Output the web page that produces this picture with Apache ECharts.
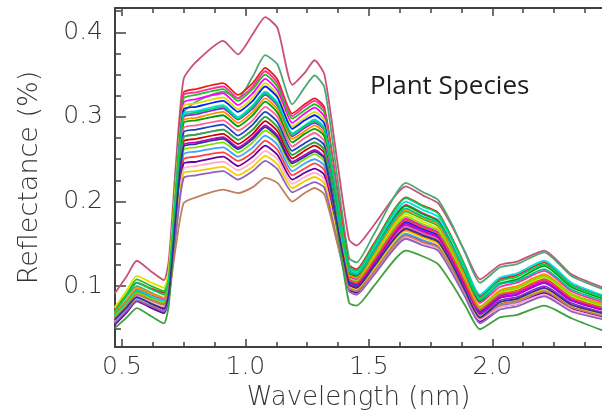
<!DOCTYPE html>
<html>
<head>
<meta charset="UTF-8">
<title>Plant Species</title>
<style type="text/css">
	html, body { margin: 0; padding: 0; background: #fff; }
	#container { width: 602px; height: 416px; }
</style>
</head>
<body>
<div id="container"></div>
<script src="https://cdn.jsdelivr.net/npm/echarts/dist/echarts.min.js"></script>
<script>
// wavelength (um) sampled along every curve
var wavelength = [0.47, 0.52, 0.56, 0.62, 0.67, 0.69, 0.72, 0.75, 0.80, 0.91, 0.97, 1.03, 1.08, 1.13, 1.19, 1.24, 1.28, 1.32, 1.37, 1.42, 1.45, 1.52, 1.65, 1.72, 1.78, 1.84, 1.89, 1.95, 2.03, 2.10, 2.21, 2.32, 2.46];

// reflectance, one row per species
var spectra = [
	[0.091,0.112,0.130,0.117,0.107, 0.131,0.250, 0.345,0.365,0.390,0.374,0.398,0.418,0.405,0.338,0.352,0.367,0.350, 0.252,0.155,0.148, 0.172,0.218,0.207,0.198,0.169,0.140,0.108, 0.125,0.129,0.142,0.114,0.097],
	[0.076,0.089,0.100,0.092,0.086, 0.112,0.240, 0.305,0.318,0.330,0.322,0.348,0.373,0.362,0.315,0.335,0.349,0.335, 0.234,0.133,0.128, 0.161,0.222,0.211,0.202,0.171,0.139,0.104, 0.122,0.126,0.140,0.112,0.095],
	[0.072,0.090,0.104,0.097,0.092, 0.116,0.234, 0.329,0.333,0.340,0.326,0.340,0.358,0.344,0.304,0.315,0.322,0.311, 0.218,0.125,0.120, 0.150,0.205,0.195,0.187,0.155,0.124,0.088, 0.108,0.113,0.128,0.102,0.087],
	[0.068,0.083,0.096,0.089,0.084, 0.108,0.229, 0.326,0.329,0.336,0.322,0.336,0.354,0.340,0.301,0.312,0.319,0.308, 0.214,0.119,0.114, 0.143,0.196,0.186,0.178,0.147,0.115,0.080, 0.099,0.104,0.118,0.094,0.080],
	[0.070,0.091,0.108,0.100,0.094, 0.117,0.231, 0.322,0.326,0.333,0.319,0.333,0.350,0.336,0.298,0.308,0.315,0.305, 0.210,0.114,0.110, 0.137,0.188,0.179,0.171,0.140,0.109,0.074, 0.093,0.098,0.112,0.090,0.076],
	[0.064,0.080,0.094,0.086,0.080, 0.104,0.222, 0.317,0.321,0.328,0.314,0.328,0.345,0.331,0.293,0.304,0.311,0.300, 0.206,0.112,0.108, 0.133,0.180,0.171,0.164,0.134,0.104,0.070, 0.088,0.092,0.106,0.085,0.072],
	[0.074,0.095,0.112,0.104,0.098, 0.120,0.227, 0.313,0.316,0.323,0.309,0.323,0.340,0.326,0.289,0.299,0.306,0.296, 0.203,0.110,0.106, 0.134,0.185,0.176,0.168,0.137,0.107,0.072, 0.091,0.096,0.110,0.088,0.075],
	[0.062,0.077,0.090,0.082,0.076, 0.099,0.216, 0.309,0.312,0.319,0.306,0.319,0.336,0.323,0.286,0.296,0.302,0.292, 0.200,0.108,0.104, 0.129,0.176,0.167,0.160,0.131,0.101,0.068, 0.086,0.090,0.104,0.083,0.071],
	[0.066,0.082,0.095,0.088,0.082, 0.104,0.215, 0.304,0.307,0.314,0.300,0.314,0.330,0.317,0.281,0.290,0.297,0.287, 0.204,0.121,0.116, 0.145,0.200,0.190,0.182,0.153,0.123,0.090, 0.110,0.115,0.130,0.104,0.088],
	[0.060,0.075,0.088,0.080,0.074, 0.097,0.210, 0.300,0.303,0.310,0.297,0.310,0.326,0.313,0.277,0.287,0.293,0.284, 0.194,0.104,0.100, 0.125,0.172,0.163,0.157,0.128,0.099,0.066, 0.083,0.087,0.100,0.080,0.068],
	[0.068,0.084,0.098,0.091,0.086, 0.107,0.212, 0.296,0.299,0.306,0.293,0.306,0.322,0.309,0.274,0.283,0.290,0.280, 0.197,0.114,0.110, 0.138,0.190,0.181,0.173,0.142,0.111,0.076, 0.095,0.100,0.114,0.091,0.078],
	[0.064,0.079,0.092,0.084,0.078, 0.100,0.207, 0.293,0.296,0.302,0.289,0.302,0.318,0.305,0.270,0.280,0.286,0.277, 0.197,0.116,0.112, 0.141,0.195,0.185,0.177,0.147,0.116,0.082, 0.103,0.108,0.124,0.099,0.084],
	[0.062,0.077,0.090,0.082,0.076, 0.097,0.203, 0.287,0.290,0.296,0.284,0.296,0.312,0.300,0.265,0.275,0.281,0.271, 0.187,0.102,0.098, 0.123,0.170,0.162,0.155,0.126,0.097,0.064, 0.081,0.085,0.098,0.078,0.067],
	[0.058,0.073,0.086,0.078,0.072, 0.093,0.198, 0.282,0.285,0.291,0.278,0.291,0.306,0.294,0.260,0.269,0.275,0.266, 0.186,0.106,0.102, 0.129,0.178,0.169,0.162,0.133,0.103,0.070, 0.089,0.094,0.108,0.086,0.073],
	[0.066,0.081,0.094,0.086,0.080, 0.100,0.198, 0.276,0.279,0.285,0.273,0.285,0.300,0.288,0.255,0.264,0.270,0.261, 0.190,0.118,0.114, 0.141,0.192,0.182,0.175,0.146,0.117,0.084, 0.102,0.106,0.120,0.096,0.082],
	[0.060,0.075,0.088,0.080,0.074, 0.094,0.192, 0.271,0.274,0.280,0.268,0.280,0.295,0.283,0.251,0.260,0.266,0.257, 0.178,0.100,0.096, 0.121,0.166,0.158,0.151,0.123,0.094,0.062, 0.079,0.083,0.096,0.077,0.065],
	[0.056,0.071,0.084,0.076,0.070, 0.090,0.188, 0.267,0.270,0.276,0.264,0.276,0.290,0.278,0.247,0.255,0.261,0.252, 0.178,0.104,0.100, 0.126,0.174,0.165,0.158,0.129,0.100,0.068, 0.086,0.090,0.104,0.083,0.071],
	[0.064,0.079,0.092,0.085,0.080, 0.098,0.189, 0.261,0.264,0.270,0.258,0.270,0.284,0.273,0.241,0.250,0.256,0.247, 0.179,0.110,0.106, 0.133,0.182,0.173,0.166,0.137,0.107,0.074, 0.093,0.098,0.112,0.090,0.076],
	[0.058,0.073,0.086,0.078,0.072, 0.090,0.182, 0.256,0.259,0.264,0.253,0.264,0.278,0.267,0.236,0.245,0.250,0.242, 0.170,0.098,0.094, 0.118,0.162,0.154,0.147,0.119,0.091,0.060, 0.077,0.081,0.094,0.075,0.064],
	[0.062,0.077,0.090,0.083,0.078, 0.095,0.181, 0.250,0.253,0.258,0.248,0.258,0.272,0.261,0.231,0.239,0.245,0.237, 0.172,0.108,0.104, 0.130,0.178,0.169,0.162,0.133,0.104,0.072, 0.090,0.094,0.108,0.086,0.073],
	[0.054,0.069,0.082,0.074,0.068, 0.086,0.174, 0.245,0.247,0.253,0.242,0.253,0.266,0.255,0.226,0.234,0.239,0.231, 0.164,0.096,0.092, 0.116,0.160,0.152,0.146,0.118,0.090,0.058, 0.075,0.079,0.092,0.074,0.063],
	[0.060,0.075,0.088,0.081,0.076, 0.092,0.174, 0.239,0.242,0.247,0.237,0.247,0.260,0.250,0.221,0.229,0.234,0.226, 0.160,0.094,0.090, 0.114,0.158,0.150,0.144,0.117,0.090,0.060, 0.075,0.079,0.090,0.072,0.061],
	[0.058,0.072,0.084,0.077,0.072, 0.088,0.169, 0.234,0.236,0.241,0.231,0.241,0.254,0.244,0.216,0.224,0.229,0.221, 0.161,0.100,0.096, 0.120,0.165,0.157,0.150,0.122,0.095,0.064, 0.080,0.084,0.096,0.077,0.065],
	[0.056,0.071,0.083,0.076,0.070, 0.086,0.165, 0.228,0.231,0.236,0.226,0.236,0.248,0.238,0.211,0.218,0.223,0.216, 0.155,0.094,0.090, 0.113,0.156,0.148,0.142,0.114,0.087,0.056, 0.072,0.076,0.088,0.070,0.060],
	[0.062,0.077,0.090,0.083,0.078, 0.090,0.150, 0.198,0.205,0.214,0.210,0.217,0.228,0.222,0.200,0.210,0.216,0.208, 0.153,0.098,0.094, 0.117,0.160,0.152,0.146,0.119,0.092,0.062, 0.078,0.082,0.094,0.075,0.064],
	[0.050,0.063,0.074,0.064,0.056, 0.078,0.188, 0.276,0.279,0.285,0.273,0.285,0.300,0.288,0.255,0.264,0.270,0.261, 0.170,0.080,0.077, 0.100,0.142,0.135,0.126,0.101,0.077,0.049, 0.063,0.066,0.077,0.062,0.046],
	[0.070,0.088,0.104,0.096,0.090, 0.111,0.217, 0.302,0.305,0.312,0.298,0.312,0.328,0.315,0.279,0.289,0.295,0.285, 0.204,0.123,0.118, 0.148,0.204,0.194,0.186,0.154,0.122,0.086, 0.106,0.111,0.126,0.101,0.086],
	[0.060,0.075,0.087,0.079,0.073, 0.092,0.188, 0.265,0.268,0.274,0.262,0.274,0.288,0.276,0.245,0.253,0.259,0.251, 0.176,0.102,0.098, 0.123,0.168,0.160,0.153,0.124,0.095,0.063, 0.081,0.085,0.098,0.078,0.067]
];

var speciesColors = ['#c8507a','#4fa873','#e8201c','#ff2ca0','#20c020','#ff00ff','#e0e000','#0020ff','#00e0e0','#8a2be2','#ff8c00','#00a000','#ff6090','#2040c0','#00c0a0','#d00000','#c000c0','#80e000','#40a0ff','#ff4040','#6a00a0','#ffb0d0','#f0d000','#9060c0','#c08060','#40a040','#00d060','#3030a0'];

// axis ticks
var xMajor = [0.5, 1.0, 1.5, 2.0];
var xMinor = [0.625, 0.75, 0.875, 1.125, 1.25, 1.375, 1.625, 1.75, 1.875, 2.125, 2.25, 2.375];
var yMajor = [0.1, 0.2, 0.3, 0.4];
var yMinor = [0.05, 0.075, 0.125, 0.15, 0.175, 0.225, 0.25, 0.275, 0.325, 0.35, 0.375, 0.425];

var X_MIN = 0.472, X_MAX = 2.444;
var Y_MIN = 0.0279, Y_MAX = 0.4288;
var axisColor = '#404040';
var labelFont = { fontFamily: 'DejaVu Sans', fontWeight: 200, fontSize: 25, color: '#333' };

function tickAxis(pos, vals, len, withLine) {
	return {
		type: 'value', position: pos, min: pos === 'left' ? Y_MIN : X_MIN, max: pos === 'left' ? Y_MAX : X_MAX,
		axisLine: { show: withLine, onZero: false, lineStyle: { color: axisColor, width: 2 } },
		axisTick: { show: true, inside: true, length: len, customValues: vals, lineStyle: { color: axisColor, width: 1.5 } },
		axisLabel: { show: false },
		splitLine: { show: false }
	};
}

var myChart = echarts.init(document.getElementById('container'));

var xBottom = tickAxis('bottom', xMajor, 8, true);
xBottom.axisLabel = Object.assign({ show: true, customValues: xMajor, margin: 8, formatter: function (v) { return v.toFixed(1); } }, labelFont);
xBottom.name = 'Wavelength (nm)';
xBottom.nameLocation = 'middle';
xBottom.nameGap = 30;
xBottom.nameTextStyle = { fontFamily: 'DejaVu Sans', fontWeight: 200, fontSize: 26, color: '#333' };

var yLeft = tickAxis('left', yMajor, 11, true);
yLeft.axisLabel = Object.assign({ show: true, customValues: yMajor, margin: 12, formatter: function (v) { return v.toFixed(1); } }, labelFont);
yLeft.name = 'Reflectance (%)';
yLeft.nameLocation = 'middle';
yLeft.nameGap = 72;
yLeft.nameTextStyle = { fontFamily: 'DejaVu Sans', fontWeight: 200, fontSize: 27, color: '#333' };

var series = spectra.map(function (row, i) {
	return {
		type: 'line',
		data: wavelength.map(function (w, j) { return [w, row[j]]; }),
		showSymbol: false,
		smooth: 0.2,
		lineStyle: { color: speciesColors[i], width: 1.8 },
		silent: true
	};
});

myChart.setOption({
	animation: false,
	title: {
		text: 'Plant Species', left: 370, top: 74, padding: 0,
		textStyle: { fontFamily: 'Open Sans', fontSize: 26, fontWeight: 'normal', color: '#1e1e1e' }
	},
	grid: { left: 115, right: 0, top: 8, bottom: 56 },
	xAxis: [
		xBottom,
		tickAxis('bottom', xMinor, 5, false),
		tickAxis('top', xMajor, 8, true),
		tickAxis('top', xMinor, 5, false)
	],
	yAxis: [
		yLeft,
		tickAxis('left', yMinor, 6, false)
	],
	series: series
});
</script>
</body>
</html>
